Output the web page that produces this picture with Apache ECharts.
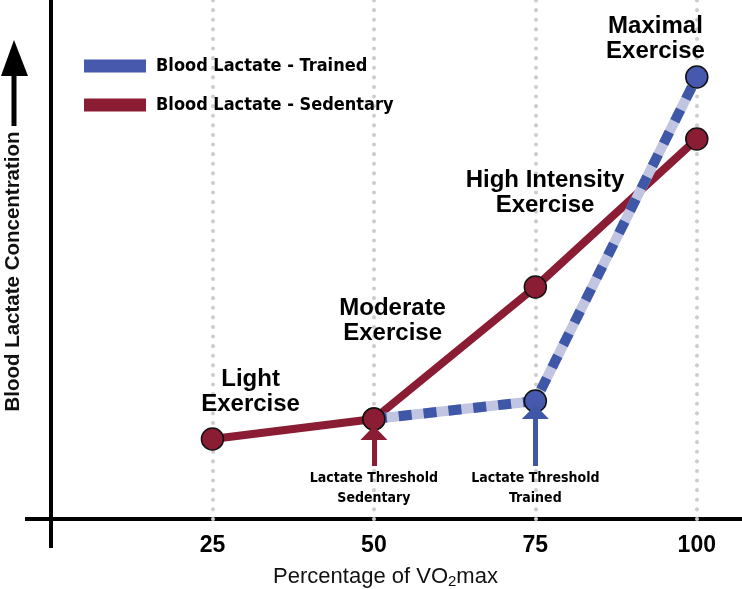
<!DOCTYPE html>
<html>
<head>
<meta charset="utf-8">
<script src="https://cdn.jsdelivr.net/npm/echarts@6/dist/echarts.min.js"></script>
<style>
html,body{margin:0;padding:0;background:#fff;}
#chart{width:742px;height:589px;}
</style>
</head>
<body>
<div id="chart"></div>
<script>
// ---- data ----
const xTicks = [25, 50, 75, 100];
const sedentaryX = [25, 50, 75, 100];
const sedentaryY = [0.80, 1.00, 2.32, 3.80];
const trainedX = [50, 75, 100];
const trainedY = [1.00, 1.18, 4.42];
const seriesNames = ['Blood Lactate - Trained', 'Blood Lactate - Sedentary'];
const annotationText = ['Light\nExercise', 'Moderate\nExercise', 'High Intensity\nExercise', 'Maximal\nExercise'];
const annotationX = [30.9, 52.9, 76.5, 93.6];
const annotationY = [1.27, 1.98, 3.26, 4.80];
const thresholdX = [50, 75];
const thresholdFrom = [0.53, 0.53];
const thresholdTo = [0.86, 1.07];
const thresholdLabelY = [0.31, 0.31];
const thresholdText = ['Lactate Threshold\nSedentary', 'Lactate Threshold\nTrained'];

const RED = '#8a1d34';
const BLUE = '#3f57a7';
const LAV = '#c2c5e2';
const NARROW = "'Liberation Sans Narrow','Arial Narrow','DejaVu Sans Condensed',sans-serif";
const SANS = "'Liberation Sans',Arial,sans-serif";

const chart = echarts.init(document.getElementById('chart'));

const sedData = sedentaryX.map((x, i) => [x, sedentaryY[i]]);
const trData = trainedX.map((x, i) => {
  const p = { value: [x, trainedY[i]] };
  if (i === 0) p.itemStyle = { color: RED };
  return p;
});

chart.setOption({
  animation: false,
  backgroundColor: '#ffffff',
  grid: { left: 51, right: 0, top: 0, bottom: 70, containLabel: false, outerBoundsMode: 'none' },
  legend: {
    data: seriesNames,
    orient: 'vertical',
    left: 79,
    top: 48,
    itemWidth: 62,
    itemHeight: 13,
    itemGap: 13,
    icon: 'rect',
    itemStyle: { borderWidth: 0 },
    textStyle: { fontFamily: NARROW, fontWeight: 'bold', fontSize: 18, color: '#000', lineHeight: 26, padding: [0, 0, 0, 5] }
  },
  xAxis: {
    type: 'value', min: 0, max: 107,
    axisLine: { onZero: false, lineStyle: { color: '#000', width: 4 } },
    axisTick: { show: false },
    splitLine: { show: false },
    axisLabel: {
      customValues: xTicks, margin: 15,
      fontFamily: SANS, fontWeight: 'bold', fontSize: 23, color: '#000'
    },
    name: '{a|Percentage of VO}{b|2}{a|max}',
    nameLocation: 'middle',
    nameGap: 45,
    nameTextStyle: {
      padding: [0, 22, 0, 0],
      rich: {
        a: { fontFamily: SANS, fontSize: 22, color: '#111', lineHeight: 26 },
        b: { fontFamily: SANS, fontSize: 15, color: '#111', lineHeight: 26, padding: [9, 0, 0, 0] }
      }
    }
  },
  yAxis: {
    type: 'value', min: 0, max: 5.19,
    axisLine: { show: true, onZero: false, lineStyle: { color: '#000', width: 4 } },
    axisTick: { show: false },
    axisLabel: { show: false },
    splitLine: { show: false },
    name: 'Blood Lactate Concentration',
    nameLocation: 'middle',
    nameGap: 27,
    nameTextStyle: { fontFamily: SANS, fontWeight: 'bold', fontSize: 20.5, color: '#111', padding: [0, 24, 0, 0] }
  },
  graphic: [
    // axis line overhangs
    { type: 'line', shape: { x1: 25, y1: 519, x2: 52, y2: 519 }, style: { stroke: '#000', lineWidth: 4 } },
    { type: 'line', shape: { x1: 51, y1: 517, x2: 51, y2: 548 }, style: { stroke: '#000', lineWidth: 4 } },
    // arrow beside the y-axis title
    { type: 'rect', shape: { x: 11.5, y: 74, width: 5, height: 52 }, style: { fill: '#000' } },
    { type: 'polygon', shape: { points: [[1, 76], [28, 76], [14, 40]] }, style: { fill: '#000' } }
  ],
  series: [
    {
      type: 'scatter', data: [], z: 0, silent: true,
      markLine: {
        silent: true, z: 1, symbol: ['none', 'none'], label: { show: false },
        lineStyle: { color: '#cdcdcd', width: 4, type: [0.1, 9.5], cap: 'round' },
        data: xTicks.map(v => [{ coord: [v, 0] }, { coord: [v, 5.19] }])
      }
    },
    {
      name: seriesNames[1], type: 'line', data: sedData, z: 3,
      symbol: 'circle', symbolSize: 22,
      lineStyle: { color: RED, width: 8 },
      itemStyle: { color: RED, borderColor: '#111', borderWidth: 1.5 }
    },
    {
      name: 'trained-bg', type: 'line', data: trainedX.map((x, i) => [x, trainedY[i]]), z: 4,
      symbol: 'none', lineStyle: { color: LAV, width: 10 }, silent: true
    },
    {
      name: seriesNames[0], type: 'line', data: trData, z: 5,
      symbol: 'circle', symbolSize: 22,
      lineStyle: { color: BLUE, width: 10, type: [13, 12], cap: 'butt' },
      itemStyle: { color: '#4659ad', borderColor: '#111', borderWidth: 1.5 }
    },
    {
      type: 'scatter', data: [], z: 6, silent: true,
      markPoint: {
        silent: true, z: 7, symbol: 'circle', symbolSize: 0,
        label: { show: true, position: 'inside', color: '#000', opacity: 1, textBorderWidth: 0 },
        data: annotationX.map((x, i) => ({
          coord: [x, annotationY[i]], value: annotationText[i],
          label: { formatter: annotationText[i], fontFamily: SANS, fontWeight: 'bold', fontSize: 24, lineHeight: 25 }
        })).concat(thresholdX.map((x, i) => ({
          coord: [x, thresholdLabelY[i]], value: thresholdText[i],
          label: { formatter: thresholdText[i], fontFamily: NARROW, fontWeight: 'bold', fontSize: 14, lineHeight: 20 }
        })))
      },
      markLine: {
        silent: true, z: 6, symbol: ['none', 'triangle'], symbolSize: [27, 14], label: { show: false },
        data: thresholdX.map((x, i) => [
          { coord: [x, thresholdFrom[i]], lineStyle: { color: i === 0 ? RED : BLUE, width: 5, type: 'solid' }, itemStyle: { color: i === 0 ? RED : BLUE } },
          { coord: [x, thresholdTo[i]] }
        ])
      }
    }
  ]
});
</script>
</body>
</html>
